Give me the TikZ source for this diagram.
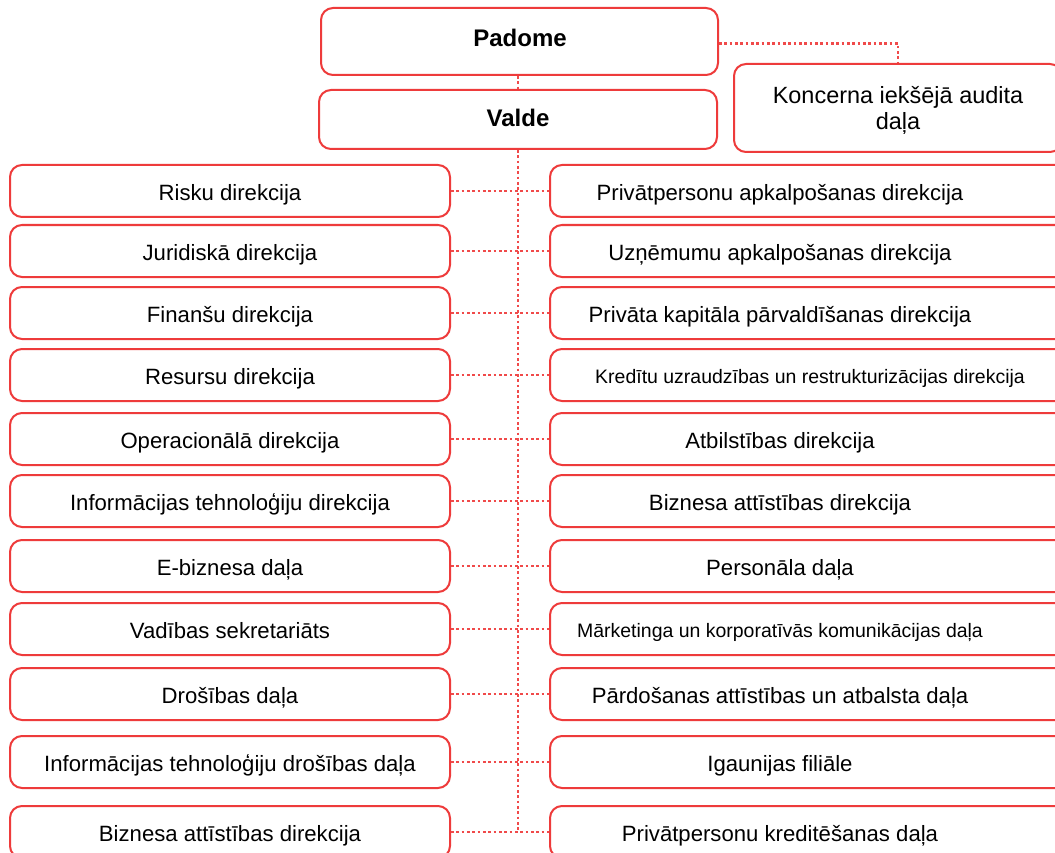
\documentclass[tikz,border=0pt]{standalone}
\usepackage{fontspec}
\setmainfont{Liberation Sans}
\definecolor{orgred}{HTML}{EE3B3B}
\definecolor{dotred}{HTML}{F04A4A}
\tikzset{
  box/.style={draw=orgred, line width=1.5pt, rounded corners=9pt, fill=white, inner sep=0pt},
  lbox/.style={box, minimum width=330pt, minimum height=39pt},
  rbox/.style={box, minimum width=393.75pt, minimum height=39pt},
  txt/.style={inner sep=0pt, anchor=base, font=\fontsize{16.6}{20}\selectfont},
  smalltxt/.style={inner sep=0pt, anchor=base, font=\fontsize{14.6}{18}\selectfont},
  conn/.style={draw=dotred, line width=2pt, dash pattern=on 2pt off 2pt}
}
\begin{document}
\begin{tikzpicture}[x=0.75pt, y=-0.75pt]
\clip (0,0) rectangle (1055,852);
\fill[white] (0,0) rectangle (1055,852);

% top boxes
\node[box, minimum width=297.75pt, minimum height=50.25pt] (padome) at (519.5,41.5) {};
\node[inner sep=0pt, anchor=base, font=\bfseries\fontsize{18}{22}\selectfont] (padomet) at (520,47) {Padome};
\node[box, minimum width=298.5pt, minimum height=44.25pt] (valde) at (518,119.5) {};
\node[inner sep=0pt, anchor=base, font=\bfseries\fontsize{18}{22}\selectfont] (valdet) at (518,127) {Valde};
\node[box, minimum width=246pt, minimum height=66pt] (audit) at (898,108) {};
\node[inner sep=0pt, anchor=base, align=center, font=\fontsize{17.6}{19.5}\selectfont] (auditt) at (898,130) {Koncerna iekšējā audita\\daļa};

% rows
\foreach \i/\y/\lt/\rt in {
 1/191/Risku direkcija/Privātpersonu apkalpošanas direkcija,
 2/251/Juridiskā direkcija/Uzņēmumu apkalpošanas direkcija,
 3/313/Finanšu direkcija/Privāta kapitāla pārvaldīšanas direkcija,
 4/375/Resursu direkcija/,
 5/439/Operacionālā direkcija/Atbilstības direkcija,
 6/501/Informācijas tehnoloģiju direkcija/Biznesa attīstības direkcija,
 7/566/E-biznesa daļa/Personāla daļa,
 8/629/Vadības sekretariāts/,
 9/694/Drošības daļa/Pārdošanas attīstības un atbalsta daļa,
 10/762/Informācijas tehnoloģiju drošības daļa/Igaunijas filiāle,
 11/832/Biznesa attīstības direkcija/Privātpersonu kreditēšanas daļa}{
  \node[lbox] (L\i) at (230,\y) {};
  \node[txt] (Lt\i) at (230,\y+9.5) {\lt};
  \node[rbox] (R\i) at (812.5,\y) {};
  \node[txt] (Rt\i) at (780,\y+9.5) {\rt};
  \path[conn] (L\i.east) -- (R\i.west);
}
\node[smalltxt] (Rs4) at (810,375+8.5) {Kredītu uzraudzības un restrukturizācijas direkcija};
\node[smalltxt] (Rs8) at (780,629+8.5) {Mārketinga un korporatīvās komunikācijas daļa};

% connectors
\coordinate (vend) at (518,832);
\path[conn] (padome.south -| valde.north) -- (valde.north);
\path[conn] (valde.south) -- (vend);
\path[conn] ([yshift=-1.5pt]padome.east) -| (audit.north);
\end{tikzpicture}
\end{document}
